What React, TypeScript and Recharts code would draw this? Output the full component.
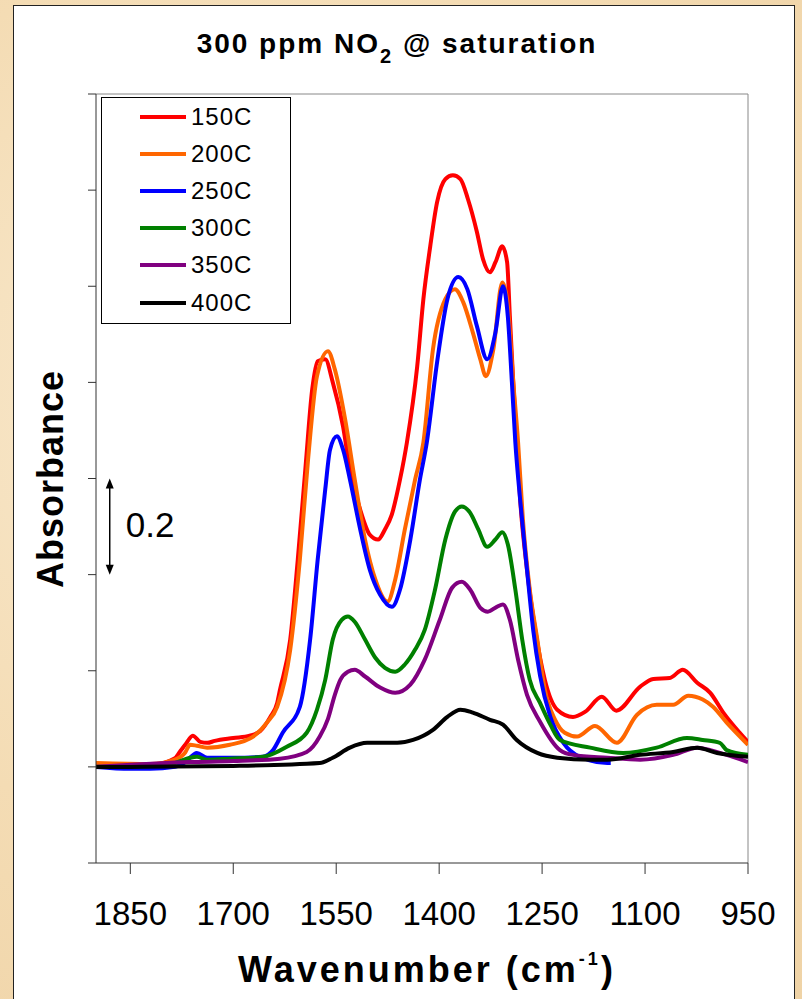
import React from 'react';
import { LineChart, Line, XAxis, YAxis, ReferenceLine } from 'recharts';

const FONT = '"Liberation Sans", Arial, Helvetica, sans-serif';

const xTicks = [1850, 1700, 1550, 1400, 1250, 1100, 950];
const yTicks = [-0.2, 0, 0.2, 0.4, 0.6, 0.8, 1.0, 1.2, 1.4];

// [wavenumber cm-1, absorbance]
const s150 = [
  [1900, 0.0], [1821, 0.003], [1785, 0.018], [1778, 0.031], [1770, 0.046], [1759, 0.065],
  [1748, 0.052], [1738, 0.05], [1727, 0.054], [1700, 0.06], [1676, 0.065], [1661, 0.074],
  [1646, 0.104], [1636, 0.133], [1632, 0.16], [1617, 0.265], [1606, 0.431], [1595, 0.619],
  [1585, 0.785], [1577, 0.844], [1566, 0.848], [1555, 0.8], [1540, 0.708], [1530, 0.619],
  [1515, 0.535], [1501, 0.483], [1489, 0.473], [1479, 0.494], [1469, 0.525], [1457, 0.598],
  [1447, 0.675], [1432, 0.833], [1423, 0.973], [1413, 1.083], [1403, 1.175], [1391, 1.223],
  [1380, 1.231], [1369, 1.223], [1358, 1.181], [1345, 1.113], [1336, 1.056], [1326, 1.029],
  [1318, 1.05], [1308, 1.083], [1301, 1.05], [1297, 0.938], [1292, 0.8], [1287, 0.675],
  [1282, 0.556], [1272, 0.41], [1260, 0.285], [1246, 0.181], [1228, 0.119], [1205, 0.104],
  [1187, 0.115], [1163, 0.146], [1142, 0.117], [1107, 0.167], [1088, 0.183], [1064, 0.185],
  [1045, 0.202], [1024, 0.175], [1005, 0.154], [986, 0.113], [962, 0.071], [950, 0.052],
];

const s200 = [
  [1900, 0.008], [1821, 0.006], [1785, 0.015], [1770, 0.03], [1763, 0.046], [1753, 0.044],
  [1738, 0.04], [1705, 0.046], [1671, 0.063], [1651, 0.092], [1636, 0.125], [1617, 0.244],
  [1603, 0.431], [1591, 0.64], [1578, 0.813], [1562, 0.865], [1552, 0.827], [1537, 0.723],
  [1523, 0.598], [1508, 0.473], [1493, 0.39], [1475, 0.344], [1464, 0.39], [1450, 0.494],
  [1435, 0.598], [1423, 0.675], [1409, 0.869], [1391, 0.973], [1377, 0.994], [1365, 0.967],
  [1351, 0.904], [1340, 0.848], [1332, 0.813], [1321, 0.869], [1308, 1.008], [1301, 0.973],
  [1292, 0.8], [1285, 0.675], [1278, 0.515], [1268, 0.369], [1257, 0.265], [1246, 0.16],
  [1231, 0.098], [1217, 0.071], [1199, 0.063], [1173, 0.085], [1141, 0.05], [1112, 0.108],
  [1083, 0.129], [1059, 0.129], [1037, 0.148], [1016, 0.14], [1001, 0.125], [981, 0.092],
  [950, 0.046],
];

const s250 = [
  [1900, 0.0], [1850, -0.004], [1821, -0.004], [1785, 0.0], [1770, 0.01], [1753, 0.029],
  [1738, 0.019], [1700, 0.019], [1657, 0.021], [1642, 0.035], [1628, 0.071], [1603, 0.125],
  [1588, 0.265], [1577, 0.431], [1566, 0.577], [1559, 0.66], [1549, 0.688], [1540, 0.66],
  [1530, 0.598], [1515, 0.494], [1501, 0.41], [1486, 0.358], [1469, 0.333], [1457, 0.369],
  [1442, 0.473], [1428, 0.598], [1418, 0.675], [1403, 0.842], [1388, 0.973], [1372, 1.019],
  [1359, 0.994], [1345, 0.917], [1330, 0.848], [1318, 0.904], [1307, 1.0], [1300, 0.938],
  [1294, 0.8], [1289, 0.675], [1282, 0.556], [1272, 0.41], [1263, 0.285], [1253, 0.19],
  [1238, 0.104], [1219, 0.05], [1195, 0.021], [1155, 0.008], [1150, 0.008],
];

const s300 = [
  [1900, 0.0], [1821, 0.002], [1785, 0.008], [1763, 0.019], [1753, 0.021], [1738, 0.015],
  [1705, 0.017], [1657, 0.021], [1622, 0.042], [1593, 0.071], [1578, 0.119], [1566, 0.181],
  [1555, 0.265], [1542, 0.306], [1533, 0.313], [1523, 0.302], [1508, 0.265], [1493, 0.227],
  [1479, 0.206], [1464, 0.198], [1450, 0.213], [1435, 0.244], [1421, 0.285], [1406, 0.369],
  [1391, 0.473], [1377, 0.531], [1367, 0.542], [1355, 0.529], [1343, 0.494], [1330, 0.458],
  [1318, 0.473], [1308, 0.488], [1300, 0.463], [1289, 0.369], [1279, 0.265], [1268, 0.181],
  [1253, 0.133], [1238, 0.088], [1224, 0.056], [1180, 0.04], [1132, 0.029], [1083, 0.04],
  [1039, 0.06], [1016, 0.056], [991, 0.05], [981, 0.035], [950, 0.025],
];

const s350 = [
  [1900, 0.0], [1763, 0.01], [1700, 0.012], [1632, 0.017], [1593, 0.031], [1574, 0.063],
  [1562, 0.1], [1552, 0.15], [1544, 0.181], [1533, 0.198], [1523, 0.202], [1508, 0.188],
  [1486, 0.165], [1464, 0.154], [1442, 0.171], [1421, 0.223], [1399, 0.306], [1381, 0.373],
  [1367, 0.385], [1355, 0.369], [1340, 0.331], [1329, 0.323], [1316, 0.333], [1307, 0.338],
  [1297, 0.306], [1285, 0.223], [1272, 0.15], [1253, 0.094], [1224, 0.035], [1205, 0.025],
  [1155, 0.019], [1107, 0.015], [1059, 0.025], [1024, 0.04], [991, 0.029], [950, 0.01],
];

const s400 = [
  [1900, 0.0], [1850, 0.0], [1700, 0.002], [1574, 0.008], [1555, 0.019], [1530, 0.04],
  [1505, 0.05], [1461, 0.05], [1438, 0.056], [1409, 0.077], [1388, 0.104], [1369, 0.119],
  [1351, 0.113], [1326, 0.098], [1307, 0.088], [1287, 0.056], [1257, 0.029], [1228, 0.019],
  [1180, 0.015], [1155, 0.015], [1107, 0.025], [1059, 0.031], [1024, 0.04], [995, 0.029],
  [950, 0.021],
];

const series = [
  { name: '150C', color: '#ff0000', points: s150 },
  { name: '200C', color: '#ff6600', points: s200 },
  { name: '250C', color: '#0000ff', points: s250 },
  { name: '300C', color: '#008000', points: s300 },
  { name: '350C', color: '#800080', points: s350 },
  { name: '400C', color: '#000000', points: s400 },
];

const toRows = (pts: number[][]) => pts.map(([w, a]) => ({ w, a }));

// 0.2 absorbance scale bar
const ScaleBar = (props: any) => {
  const { x1, y1, y2 } = props;
  const top = Math.min(y1, y2);
  const bot = Math.max(y1, y2);
  return (
    <g>
      <line x1={x1} y1={top + 8} x2={x1} y2={bot - 8} stroke="#000" strokeWidth={1.5} />
      <polygon points={`${x1},${top} ${x1 - 4},${top + 10} ${x1 + 4},${top + 10}`} fill="#000" />
      <polygon points={`${x1},${bot} ${x1 - 4},${bot - 10} ${x1 + 4},${bot - 10}`} fill="#000" />
      <text x={x1 + 16} y={(top + bot) / 2 + 10} fontSize={35} fontFamily={FONT} fill="#000">
        0.2
      </text>
    </g>
  );
};

export default function App() {
  return (
    <div
      style={{
        position: 'absolute',
        left: 0,
        top: 0,
        width: 802,
        height: 999,
        overflow: 'hidden',
        background: 'radial-gradient(circle at 30% 40%, #f9ead0 0%, #f4dcb4 55%, #efd3a6 100%)',
      }}
    >
      <div
        style={{
          position: 'absolute',
          left: 13,
          top: 5,
          width: 782,
          height: 1010,
          background: '#fff',
          border: '1.5px solid #222',
          boxSizing: 'border-box',
        }}
      />
      <div style={{ position: 'absolute', left: 0, top: 0 }}>
        <LineChart width={802} height={999} margin={{ top: 94, right: 54, bottom: 106, left: 86 }}>
          <XAxis
            type="number"
            dataKey="w"
            domain={[950, 1900]}
            reversed
            allowDataOverflow
            ticks={xTicks}
            interval={0}
            height={30}
            tickSize={11}
            tickMargin={28}
            stroke="#333"
            tick={{ fontSize: 33, fill: '#000', fontFamily: FONT }}
          />
          <YAxis
            type="number"
            domain={[-0.2, 1.4]}
            allowDataOverflow
            ticks={yTicks}
            interval={0}
            width={10}
            tickSize={8}
            stroke="#333"
            tick={() => <g />}
          />
          <ReferenceLine y={1.4} stroke="#888" />
          <ReferenceLine x={950} stroke="#888" />
          <ReferenceLine
            segment={[{ x: 1880, y: 0.4 }, { x: 1880, y: 0.6 }]}
            shape={ScaleBar}
          />
          {series.map((s) => (
            <Line
              key={s.name}
              name={s.name}
              data={toRows(s.points)}
              dataKey="a"
              type="monotone"
              stroke={s.color}
              strokeWidth={4}
              strokeLinejoin="round"
              dot={false}
              activeDot={false}
              isAnimationActive={false}
            />
          ))}
        </LineChart>
      </div>

      <svg
        width={802}
        height={999}
        style={{ position: 'absolute', left: 0, top: 0, pointerEvents: 'none' }}
      >
        <text x={397} y={53} textAnchor="middle" fontFamily={FONT} fontWeight="bold" fontSize={28} letterSpacing={2}>
          300 ppm NO<tspan fontSize={20} dy={10}>2</tspan>
          <tspan dy={-10}> @ saturation</tspan>
        </text>
        <text x={427} y={982} textAnchor="middle" fontFamily={FONT} fontWeight="bold" fontSize={36} letterSpacing={3}>
          Wavenumber (cm<tspan fontSize={18} dy={-17}>-1</tspan>
          <tspan dy={17}>)</tspan>
        </text>
        <text
          x={63}
          y={479}
          transform="rotate(-90 63 479)"
          textAnchor="middle"
          fontFamily={FONT}
          fontWeight="bold"
          fontSize={36}
          letterSpacing={1}
        >
          Absorbance
        </text>
      </svg>

      <div
        style={{
          position: 'absolute',
          left: 101,
          top: 97,
          width: 190,
          height: 227,
          border: '1px solid #000',
          background: '#fff',
          boxSizing: 'border-box',
          fontFamily: FONT,
        }}
      >
        {series.map((s) => (
          <div key={s.name} style={{ height: 37.2, display: 'flex', alignItems: 'center' }}>
            <div style={{ marginLeft: 38, width: 46, height: 4, background: s.color }} />
            <span style={{ marginLeft: 5, fontSize: 24, letterSpacing: 1, color: '#000', lineHeight: '24px' }}>
              {s.name}
            </span>
          </div>
        ))}
      </div>
    </div>
  );
}
